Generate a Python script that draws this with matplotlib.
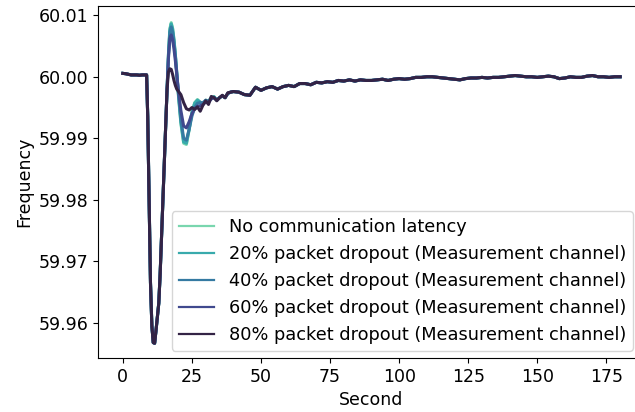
import matplotlib
matplotlib.use("Agg")
import matplotlib.pyplot as plt
from matplotlib.ticker import MultipleLocator, FormatStrFormatter
import seaborn as sns
import numpy as np

# shared part before the oscillation splits up
t_head = [0, 1, 2, 3, 4, 5, 6, 7, 8, 8.6, 9, 9.5, 10, 10.5, 11, 11.5, 12,
          12.5, 13, 13.5, 14, 14.5, 15]
f_head = [60.00055, 60.0005, 60.0004, 60.0003, 60.0003, 60.0003, 60.00025,
          60.0003, 60.0003, 60.0003, 59.9935, 59.9800, 59.9665, 59.9595,
          59.9568, 59.9567, 59.9588, 59.9610, 59.9632, 59.9680, 59.9740,
          59.9800, 59.9860]

# transient, one list per case
t_mid = [15.5, 16, 16.5, 17, 17.5, 18, 18.5, 19, 19.5, 20, 21, 22, 23, 24,
         25, 26, 27, 28, 29, 30, 31, 32, 33, 34, 35, 36, 37, 38, 39]
f_mid_0 = [59.9920, 59.9980, 60.0037, 60.0078, 60.0088, 60.0079, 60.0061,
           60.0036, 60.0006, 59.9975, 59.9924, 59.9892, 59.9890, 59.9914,
           59.9942, 59.9958, 59.9963, 59.9958, 59.9955, 59.9962, 59.9960,
           59.9966, 59.9968, 59.9962, 59.9966, 59.9969, 59.9966, 59.9973,
           59.9975]
f_mid_20 = [59.9920, 59.9980, 60.0036, 60.0076, 60.0086, 60.0078, 60.0060,
            60.0036, 60.0007, 59.9977, 59.9926, 59.9894, 59.9892, 59.9915,
            59.9942, 59.9957, 59.9962, 59.9959, 59.9955, 59.9961, 59.9960,
            59.9966, 59.9967, 59.9962, 59.9966, 59.9969, 59.9966, 59.9973,
            59.9975]
f_mid_40 = [59.9920, 59.9980, 60.0034, 60.0072, 60.0081, 60.0073, 60.0056,
            60.0034, 60.0007, 59.9979, 59.9931, 59.9900, 59.9897, 59.9915,
            59.9936, 59.9950, 59.9957, 59.9958, 59.9958, 59.9962, 59.9960,
            59.9965, 59.9967, 59.9962, 59.9966, 59.9969, 59.9966, 59.9973,
            59.9975]
f_mid_60 = [59.9920, 59.9980, 60.0030, 60.0062, 60.0068, 60.0060, 60.0045,
            60.0026, 60.0004, 59.9982, 59.9945, 59.9920, 59.9917, 59.9927,
            59.9940, 59.9948, 59.9952, 59.9953, 59.9955, 59.9959, 59.9958,
            59.9964, 59.9966, 59.9962, 59.9966, 59.9969, 59.9966, 59.9973,
            59.9975]
f_mid_80 = [59.9920, 59.9980, 60.0008, 60.0013, 60.0012, 60.0004, 59.9994,
            59.9986, 59.9980, 59.9977, 59.9971, 59.9958, 59.9948, 59.9946,
            59.9950, 59.9947, 59.9951, 59.9944, 59.9954, 59.9961, 59.9955,
            59.9968, 59.9966, 59.9961, 59.9966, 59.9970, 59.9966, 59.9974,
            59.9975]

# settled part, same for every case
t_tail = list(range(40, 181, 2))
f_tail = [59.9976, 59.9975, 59.9971, 59.9970, 59.9983, 59.9978, 59.9982,
          59.9984, 59.9980, 59.9984, 59.9986, 59.9984, 59.9989, 59.9989,
          59.9987, 59.9991, 59.9990, 59.9992, 59.9991, 59.9994, 59.9993,
          59.9995, 59.9993, 59.9995, 59.9994, 59.9994, 59.9995, 59.9996,
          59.9994, 59.9996, 59.9997, 59.9996, 59.9997, 59.9999, 59.9999,
          60.0000, 60.0000, 59.9999, 59.9998, 59.9997, 59.9996, 59.9995,
          59.9997, 59.9998, 59.9998, 59.9999, 59.9998, 59.9999, 59.9999,
          60.0000, 60.0001, 60.0002, 60.0001, 60.0000, 60.0000, 59.9999,
          60.0000, 60.0001, 60.0000, 59.9997, 59.9998, 60.0000, 59.9999,
          59.9999, 60.0001, 60.0002, 60.0000, 60.0000, 59.9999, 60.0000,
          60.0000]

labels = ["No communication latency",
          "20% packet dropout (Measurement channel)",
          "40% packet dropout (Measurement channel)",
          "60% packet dropout (Measurement channel)",
          "80% packet dropout (Measurement channel)"]
mids = [f_mid_0, f_mid_20, f_mid_40, f_mid_60, f_mid_80]

time = t_head + t_mid + t_tail
colors = sns.color_palette("mako_r", 5)

fig = plt.figure(figsize=(6.35, 4.12), dpi=100)
ax = fig.add_axes([98/635, 54/412, 547/635, 352/412])
for mid, lab, c in zip(mids, labels, colors):
    ax.plot(time, f_head + mid + f_tail, color=c, lw=2.2, label=lab)

ax.set_xlim(-9, 189)
ax.set_ylim(59.9543, 60.0115)
ax.yaxis.set_major_locator(MultipleLocator(0.01))
ax.yaxis.set_major_formatter(FormatStrFormatter("%.2f"))
ax.xaxis.set_major_locator(MultipleLocator(25))
ax.tick_params(labelsize=12.5)
ax.set_xlabel("Second", fontsize=12.5)
ax.set_ylabel("Frequency", fontsize=12.5)
leg = ax.legend(loc="lower right", fontsize=12.8, borderaxespad=0,
                bbox_to_anchor=(633/635, 61/412), bbox_transform=fig.transFigure)
for line in leg.get_lines():
    line.set_linewidth(1.6)

plt.savefig("out.png", dpi=100)
